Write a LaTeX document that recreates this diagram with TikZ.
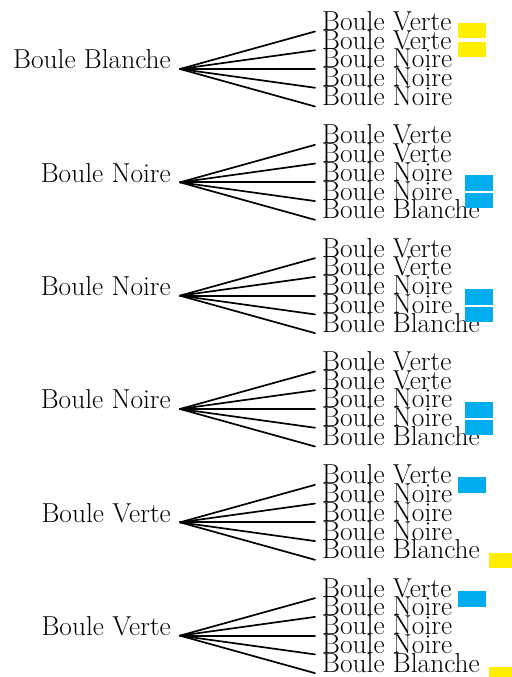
\documentclass[tikz,border=0pt]{standalone}
\definecolor{ballyellow}{HTML}{FFEE00}
\definecolor{ballblue}{HTML}{00AEEF}
\tikzset{
  lbl/.style={font=\fontsize{27.5}{27.5}\selectfont, inner sep=0pt},
  rootlbl/.style={lbl, anchor=base east},
  leaflbl/.style={lbl, anchor=base west},
  branch/.style={line width=1.7bp, line cap=round},
  yellowbox/.style={fill=ballyellow, draw=none},
  bluebox/.style={fill=ballblue, draw=none}
}
\begin{document}
\begin{tikzpicture}[x=1bp,y=-1bp]
\useasboundingbox (0,0) rectangle (512,677);
% group data: index / root text / leaf texts
\foreach \g/\rt/\la/\lb/\lc/\ld/\le in {
  0/Boule Blanche/Boule Verte/Boule Verte/Boule Noire/Boule Noire/Boule Noire,
  1/Boule Noire/Boule Verte/Boule Verte/Boule Noire/Boule Noire/Boule Blanche,
  2/Boule Noire/Boule Verte/Boule Verte/Boule Noire/Boule Noire/Boule Blanche,
  3/Boule Noire/Boule Verte/Boule Verte/Boule Noire/Boule Noire/Boule Blanche,
  4/Boule Verte/Boule Verte/Boule Noire/Boule Noire/Boule Noire/Boule Blanche,
  5/Boule Verte/Boule Verte/Boule Noire/Boule Noire/Boule Noire/Boule Blanche}{
  \pgfmathsetmacro{\ry}{69+113.33*\g}
  \coordinate (r\g) at (180,\ry);
  \node[rootlbl] (t\g) at (171,\ry) {\rt};
  \foreach \k/\txt in {1/\la,2/\lb,3/\lc,4/\ld,5/\le}{
    \pgfmathsetmacro{\ey}{\ry+18.75*(\k-3)}
    \coordinate (e\g-\k) at (315,\ey);
    \node[leaflbl] (l\g-\k) at (322,\ey-1) {\txt};
    \draw[branch] (r\g) -- (e\g-\k);
  }
}
% colour markers
\fill[yellowbox] (458,23) rectangle (486,38);
\fill[yellowbox] (458,42) rectangle (486,57);
\foreach \g in {1,2,3}{
  \pgfmathsetmacro{\ry}{69+113.33*\g}
  \fill[bluebox] (465,\ry-7) rectangle (493,\ry+9);
  \fill[bluebox] (465,\ry+11) rectangle (493,\ry+26);
}
\foreach \g in {4,5}{
  \pgfmathsetmacro{\ry}{69+113.33*\g}
  \fill[bluebox] (458,\ry-45) rectangle (486,\ry-29);
  \fill[yellowbox] (489,\ry+31) rectangle (512,\ry+46);
}
\end{tikzpicture}
\end{document}
